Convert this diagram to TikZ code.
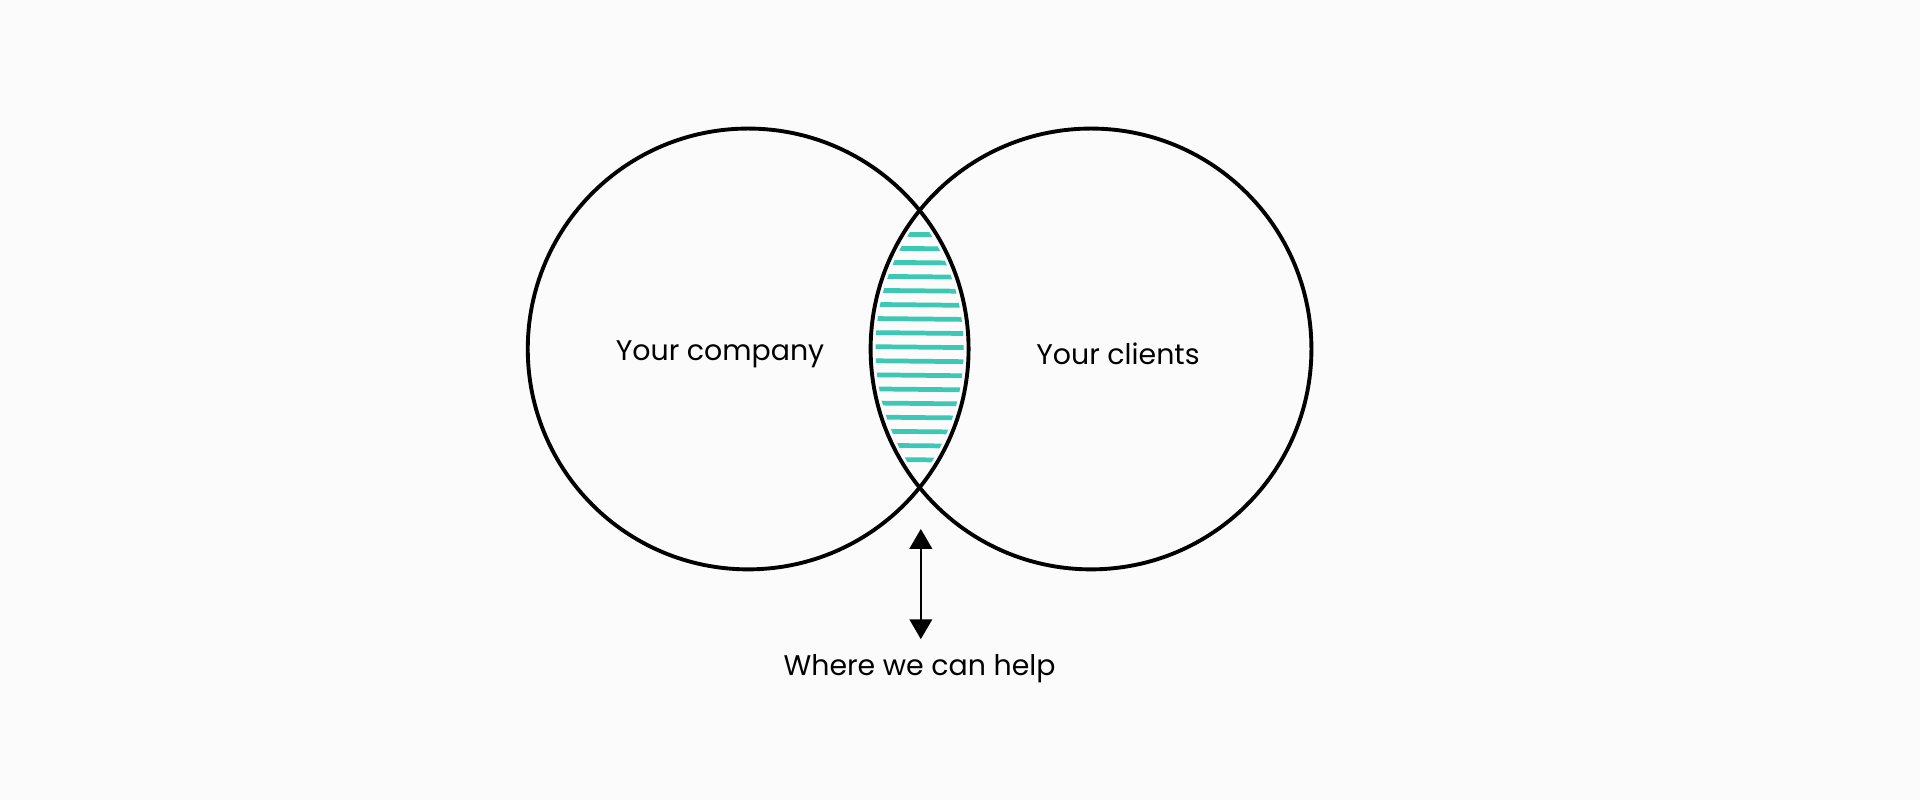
\documentclass[tikz,border=0pt]{standalone}
\usepackage{fontspec}
\setmainfont{Poppins}
\usetikzlibrary{arrows.meta}
\definecolor{bgcol}{HTML}{FBFBFB}
\definecolor{hatchcol}{HTML}{3CC8B4}
\tikzset{
  ring/.style={draw=black, line width=0.9pt},
  hatch/.style={draw=hatchcol, line width=1.1pt},
  label/.style={font=\fontsize{6.6}{8}\selectfont}
}
\begin{document}
\begin{tikzpicture}
    % background
    \fill[bgcol] (0, 0) rectangle (15.68, 6.53);
    \useasboundingbox (0, 0) rectangle (15.68, 6.53);
    % centres
    \coordinate (company) at (6.11, 3.68);
    \coordinate (clients) at (8.91, 3.68);
    % overlap hatching
    \begin{scope}
      \clip (company) circle (1.76);
      \clip (clients) circle (1.76);
      \foreach \i in {0,...,16}
        \draw[hatch] (7.0, 4.62-\i*0.115) -- (8.0, 4.61-\i*0.115);
    \end{scope}
    % circles
    \draw[ring] (company) circle (1.80);
    \draw[ring] (clients) circle (1.80);
    % labels
    \node[label] (companytext) at (5.88, 3.64) {Your company};
    \node[label] (clientstext) at (9.13, 3.64) {Your clients};
    % arrow
    \coordinate (arrowtop) at (7.52, 2.21);
    \coordinate (arrowbot) at (7.52, 1.31);
    \draw[line width=0.6pt, {Triangle[width=5.2pt,length=4.6pt]}-{Triangle[width=5.2pt,length=4.6pt]}] (arrowtop) -- (arrowbot);
    \node[label] (helptext) at (7.51, 1.07) {Where we can help};
\end{tikzpicture}
\end{document}
